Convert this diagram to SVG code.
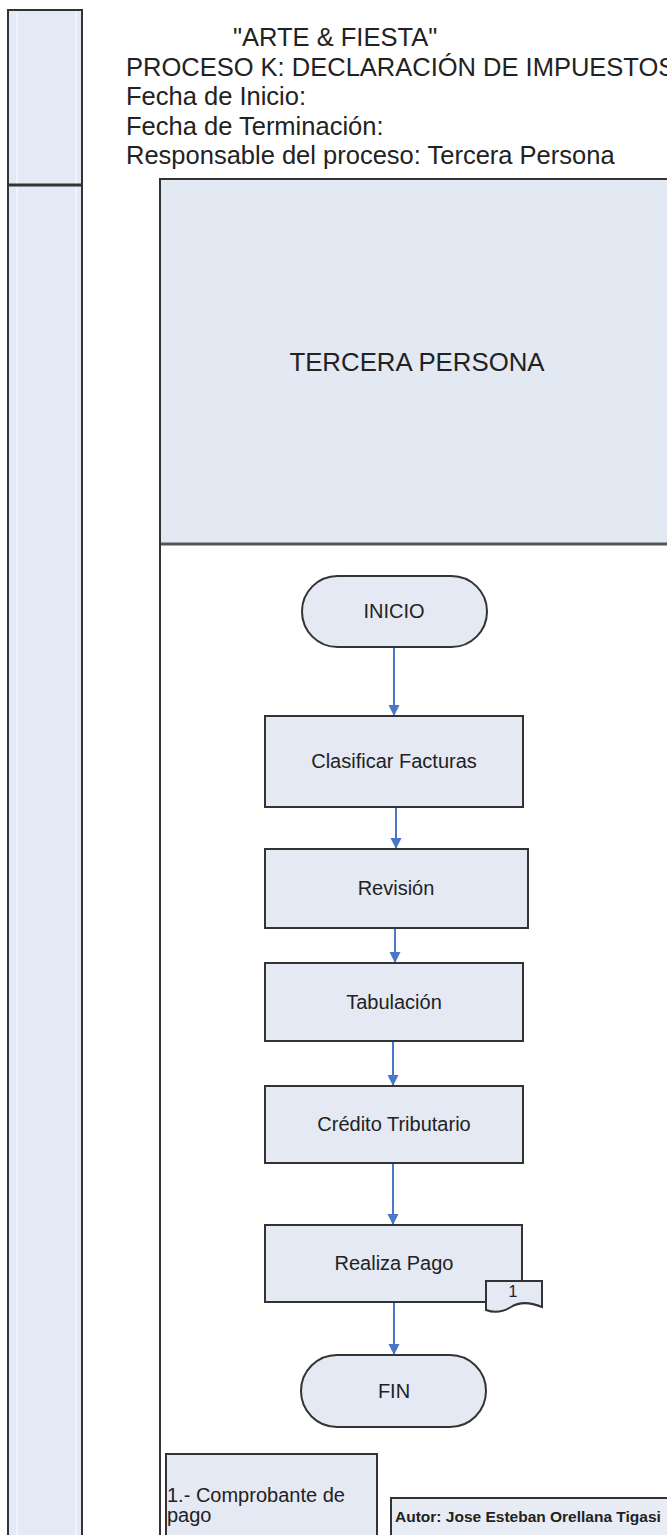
<svg xmlns="http://www.w3.org/2000/svg" width="667" height="1535" viewBox="0 0 667 1535">
<defs>
<style>
.t{font-family:"Liberation Sans",Arial,sans-serif;fill:#222}
.hd{font-size:25.5px}
.lbl{font-size:20px;text-anchor:middle}
.box{fill:#e4e9f3;stroke:#333;stroke-width:2}
.conn{stroke:#4a78c9;stroke-width:2;fill:none;marker-end:url(#ah)}
</style>
<marker id="ah" markerWidth="12" markerHeight="12" refX="10" refY="5.5" orient="auto" markerUnits="userSpaceOnUse">
<path d="M0,0 L11,5.5 L0,11 Z" fill="#4a78c9"/>
</marker>
</defs>
<rect width="667" height="1535" fill="#fff"/>

<g id="left-column">
<rect x="8" y="10" width="74" height="1540" fill="#e3e9f5" stroke="#333" stroke-width="2"/>
<line x1="17" y1="12" x2="17" y2="1535" stroke="#eff3fa" stroke-width="2"/>
<line x1="76" y1="12" x2="76" y2="1535" stroke="#eff3fa" stroke-width="2"/>
<line x1="8" y1="185" x2="82" y2="185" stroke="#333" stroke-width="3"/>
</g>

<g id="title">
<text class="t hd" x="233" y="46">"ARTE &amp; FIESTA"</text>
<text class="t hd" x="126" y="76">PROCESO K: DECLARACIÓN DE IMPUESTOS</text>
<text class="t hd" x="126" y="105">Fecha de Inicio:</text>
<text class="t hd" x="126" y="135">Fecha de Terminación:</text>
<text class="t hd" x="126" y="164">Responsable del proceso: Tercera Persona</text>
</g>

<g id="lane">
<rect x="160" y="179" width="520" height="365" fill="#e3e9f3"/>
<rect x="160" y="544" width="520" height="1000" fill="#fff"/>
<line x1="160" y1="179" x2="667" y2="179" stroke="#333" stroke-width="2"/>
<line x1="160" y1="544" x2="667" y2="544" stroke="#555" stroke-width="3"/>
<line x1="160" y1="178" x2="160" y2="1535" stroke="#333" stroke-width="2"/>
<text class="t" x="417" y="371" font-size="25.8" text-anchor="middle">TERCERA PERSONA</text>
</g>

<g id="connectors">
<line class="conn" x1="394" y1="647" x2="394" y2="715"/>
<line class="conn" x1="396" y1="807" x2="396" y2="848"/>
<line class="conn" x1="395" y1="928" x2="395" y2="962"/>
<line class="conn" x1="393" y1="1041" x2="393" y2="1085"/>
<line class="conn" x1="393" y1="1163" x2="393" y2="1224"/>
<line class="conn" x1="394" y1="1302" x2="394" y2="1354"/>
</g>

<g id="inicio">
<rect class="box" x="302" y="576" width="185" height="71" rx="35.5"/>
<text class="t lbl" x="394" y="618">INICIO</text>
</g>

<g id="clasificar">
<rect class="box" x="265" y="716" width="258" height="91"/>
<text class="t lbl" x="394" y="768">Clasificar Facturas</text>
</g>

<g id="revision">
<rect class="box" x="265" y="849" width="263" height="79"/>
<text class="t lbl" x="396" y="895">Revisión</text>
</g>

<g id="tabulacion">
<rect class="box" x="265" y="963" width="258" height="78"/>
<text class="t lbl" x="394" y="1009">Tabulación</text>
</g>

<g id="credito">
<rect class="box" x="265" y="1086" width="258" height="77"/>
<text class="t lbl" x="394" y="1131">Crédito Tributario</text>
</g>

<g id="realiza">
<rect class="box" x="265" y="1225" width="257" height="77"/>
<text class="t lbl" x="394" y="1270">Realiza Pago</text>
</g>

<g id="doc1">
<path d="M486,1281 H542 V1307 C530,1302 519,1302 511,1307 C503,1312 494,1313 486,1310 Z" fill="#e4e9f3" stroke="#333" stroke-width="2"/>
<text class="t" x="513" y="1297" font-size="16" text-anchor="middle">1</text>
</g>

<g id="fin">
<rect class="box" x="301" y="1355" width="185" height="72" rx="36"/>
<text class="t lbl" x="394" y="1398">FIN</text>
</g>

<g id="nota">
<rect class="box" x="166" y="1454" width="211" height="90"/>
<text class="t" x="167" y="1502" font-size="20">1.- Comprobante de</text>
<text class="t" x="167" y="1522" font-size="20">pago</text>
</g>

<g id="autor">
<rect x="391" y="1498" width="290" height="45" fill="#e8ecf4" stroke="#333" stroke-width="2"/>
<text class="t" x="395" y="1522" font-size="15.5" font-weight="bold">Autor: Jose Esteban Orellana Tigasi</text>
</g>
</svg>
